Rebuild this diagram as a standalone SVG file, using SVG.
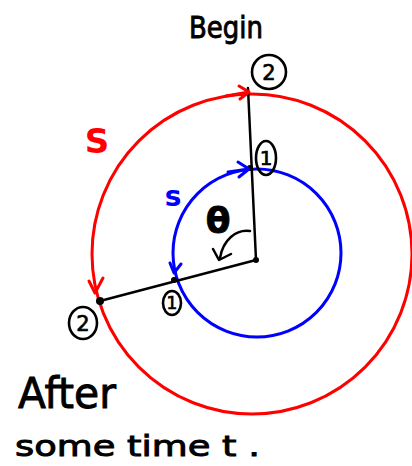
<svg xmlns="http://www.w3.org/2000/svg" width="412" height="466" viewBox="0 0 412 466">
<style>
.hw{font-family:"DejaVu Sans","Liberation Sans",sans-serif;fill:#000;stroke:#000;stroke-width:0.9}
.num{font-family:"DejaVu Sans","Liberation Sans",sans-serif;fill:#000;stroke:#000;stroke-width:0.7;text-anchor:middle}
.red{stroke:#ff0000;fill:none;stroke-width:3;stroke-linecap:round;stroke-linejoin:round}
.blue{stroke:#0000ff;fill:none;stroke-width:3;stroke-linecap:round;stroke-linejoin:round}
.blk{stroke:#000;fill:none;stroke-width:2.5;stroke-linecap:round;stroke-linejoin:round}
.ring{stroke:#000;fill:none;stroke-width:2.6}
</style>
<rect width="412" height="466" fill="#fff"/>
<g id="circles">
<circle cx="252" cy="254" r="160" class="red"/>
<circle cx="257" cy="253" r="84" class="blue"/>
</g>
<g id="connectors">
<line x1="256" y1="260" x2="248" y2="88" class="blk"/>
<line x1="256" y1="260" x2="100" y2="301" class="blk"/>
<circle cx="256" cy="260" r="3" fill="#000"/>
<circle cx="250" cy="168" r="3" fill="#000"/>
<circle cx="174" cy="280" r="3" fill="#000"/>
<circle cx="100" cy="301" r="4" fill="#000"/>
<path d="M226,96 L249,92 M239,86 L249,92 L240,99" class="red"/>
<path d="M89,281 L95,293 L103,278" class="red"/>
<path d="M228,172 L249,169 M238,162 L249,169 L239,177" class="blue"/>
<path d="M170,263 L174,273 L181,264" class="blue"/>
<path d="M250,231 C236,229 223,240 220,258" class="blk"/>
<path d="M213,249 L219,260 L231,254" class="blk"/>
</g>
<g id="begin"><text x="226" y="38" class="hw" font-size="30" text-anchor="middle" textLength="74" lengthAdjust="spacingAndGlyphs">Begin</text></g>
<g id="top2"><ellipse cx="269" cy="72" rx="17" ry="17" class="ring"/><text x="269" y="80" class="num" font-size="21">2</text></g>
<g id="top1"><ellipse cx="266" cy="158" rx="10" ry="17" class="ring"/><text x="266" y="165" class="num" font-size="20">1</text></g>
<g id="bot1"><ellipse cx="172" cy="303" rx="9" ry="12" class="ring"/><text x="172" y="309" class="num" font-size="17">1</text></g>
<g id="bot2"><ellipse cx="83" cy="323" rx="14" ry="16" class="ring"/><text x="83" y="331" class="num" font-size="21">2</text></g>
<g id="labelS"><text x="97" y="153" font-family="DejaVu Sans, sans-serif" font-size="34" font-weight="bold" fill="#ff0000" text-anchor="middle">S</text></g>
<g id="labels"><text x="173" y="206" font-family="DejaVu Sans, sans-serif" font-size="28" font-weight="bold" fill="#0000ff" text-anchor="middle">s</text></g>
<g id="theta"><text x="218" y="233" class="hw" font-size="36" font-weight="bold" text-anchor="middle">θ</text></g>
<g id="after"><text x="18" y="408" class="hw" font-size="42" textLength="98" lengthAdjust="spacingAndGlyphs">After</text></g>
<g id="sometime"><text x="15" y="456" class="hw" font-size="28" stroke-width="0.5" textLength="245" lengthAdjust="spacingAndGlyphs">some time t .</text></g>
</svg>
